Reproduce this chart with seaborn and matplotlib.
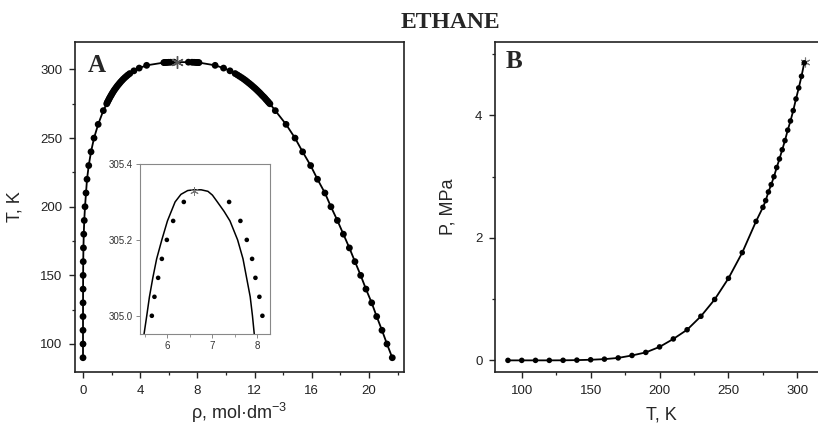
import matplotlib
matplotlib.use('Agg')
import matplotlib.pyplot as plt
import seaborn as sns
from matplotlib.ticker import MultipleLocator, FixedLocator

# ---------------- data ----------------
T_sat = [90, 100, 110, 120, 130, 140, 150, 160, 170, 180, 190, 200, 210, 220, 230,
         240, 250, 260, 270,
         275, 276, 277, 278, 279, 280, 281, 282, 283, 284, 285, 286, 287, 288, 289,
         290, 291, 292, 293, 294, 295, 296, 297, 299, 301, 303,
         305.00, 305.05, 305.10, 305.15, 305.20, 305.25, 305.30]
rho_liq = [21.63, 21.26, 20.91, 20.54, 20.19, 19.79, 19.42, 19.02, 18.63, 18.21, 17.79,
           17.34, 16.92, 16.40, 15.92, 15.36, 14.83, 14.20, 13.45,
           13.07, 12.98, 12.90, 12.81, 12.73, 12.64, 12.54, 12.45, 12.36, 12.26, 12.16,
           12.06, 11.95, 11.84, 11.73, 11.61, 11.49, 11.37, 11.24, 11.10, 10.95, 10.80,
           10.64, 10.28, 9.83, 9.24,
           8.111, 8.044, 7.956, 7.882, 7.764, 7.622, 7.371]
rho_vap = [0.0, 0.0, 0.0, 0.001, 0.003, 0.005, 0.008, 0.016, 0.030, 0.053, 0.087,
           0.14, 0.21, 0.28, 0.40, 0.56, 0.77, 1.06, 1.42,
           1.66, 1.70, 1.75, 1.80, 1.85, 1.90, 1.96, 2.01, 2.07, 2.13, 2.19,
           2.26, 2.33, 2.40, 2.48, 2.56, 2.64, 2.73, 2.82, 2.92, 3.03, 3.14,
           3.27, 3.56, 3.93, 4.45,
           5.653, 5.711, 5.793, 5.876, 5.987, 6.127, 6.364]

# model curve shown in the inset
curve_rho = [5.48, 5.54, 5.60, 5.675, 5.76, 5.875, 6.00, 6.17, 6.30, 6.45, 6.58, 6.75,
             6.90, 7.00, 7.11, 7.26, 7.39, 7.56, 7.68, 7.76, 7.84, 7.89, 7.93]
curve_T = [304.952, 305.00, 305.05, 305.10, 305.15, 305.20, 305.25, 305.30, 305.32,
           305.33, 305.332, 305.332, 305.328, 305.318, 305.30, 305.275, 305.25,
           305.20, 305.15, 305.10, 305.05, 305.00, 304.952]

T_c = 305.33
rho_c = 6.58
P_c = 4.87

T_p = [90, 100, 110, 120, 130, 140, 150, 160, 170, 180, 190, 200, 210, 220, 230, 240,
       250, 260, 270, 275, 277, 279, 281, 283, 285, 287, 289, 291, 293, 295, 297, 299,
       301, 303, 305]
P_p = [0.0, 0.0, 0.0, 0.0, 0.001, 0.004, 0.01, 0.02, 0.04, 0.08, 0.13, 0.22, 0.35,
       0.50, 0.72, 0.995, 1.34, 1.76, 2.27, 2.50, 2.61, 2.75, 2.87, 3.00, 3.15, 3.29,
       3.44, 3.59, 3.76, 3.91, 4.08, 4.27, 4.45, 4.64, 4.86]

# ---------------- style ----------------
sns.set_style('ticks')
plt.rcParams['font.family'] = ['Liberation Sans', 'DejaVu Sans']
plt.rcParams['mathtext.default'] = 'regular'
plt.rcParams['axes.edgecolor'] = '#222222'
plt.rcParams['axes.linewidth'] = 1.2
plt.rcParams['xtick.color'] = '#222222'
plt.rcParams['ytick.color'] = '#222222'

fig = plt.figure(figsize=(8.18, 4.24), dpi=100)
W, H = 818, 424
axA = fig.add_axes([75 / W, 1 - 372 / H, 329 / W, 330 / H])
axB = fig.add_axes([495 / W, 1 - 372 / H, 332 / W, 330 / H])
axI = fig.add_axes([140 / W, 1 - 334 / H, 130 / W, 170 / H])

# ---------------- panel A ----------------
path_rho = rho_vap + [rho_c] + rho_liq[::-1]
path_T = T_sat + [T_c] + T_sat[::-1]
sns.lineplot(x=path_rho, y=path_T, sort=False, estimator=None, color='black',
             lw=1.3, ax=axA)
sns.scatterplot(x=rho_vap + rho_liq, y=T_sat + T_sat, s=24, color='black',
                edgecolor='none', ax=axA, zorder=3)
axA.plot([rho_c], [T_c], marker=(6, 2, 0), ms=9, mew=1.0, color='#555555',
         ls='none', zorder=4)
axA.set_xlim(-0.56, 22.45)
axA.set_ylim(79.6, 320)
axA.xaxis.set_major_locator(MultipleLocator(4))
axA.xaxis.set_minor_locator(MultipleLocator(2))
axA.yaxis.set_major_locator(MultipleLocator(50))
axA.yaxis.set_minor_locator(MultipleLocator(25))
axA.set_xlabel('ρ, mol·dm$^{-3}$', fontsize=13)
axA.set_ylabel('T, K', fontsize=13)
axA.xaxis.set_label_coords(0.5, -0.088)
axA.yaxis.set_label_coords(-0.157, 0.5)
axA.text(0.04, 0.909, 'A', transform=axA.transAxes, fontsize=18,
         fontweight='bold', family='Liberation Serif', va='baseline', ha='left')

# ---------------- inset ----------------
sns.lineplot(x=curve_rho, y=curve_T, sort=False, estimator=None, color='black',
             lw=1.1, ax=axI)
nc_T = [t for t in T_sat if t >= 305.0]
nc_v = [r for r, t in zip(rho_vap, T_sat) if t >= 305.0]
nc_l = [r for r, t in zip(rho_liq, T_sat) if t >= 305.0]
sns.scatterplot(x=nc_v + nc_l, y=nc_T + nc_T, s=11, color='black',
                edgecolor='none', ax=axI, zorder=3)
axI.plot([rho_c], [T_c], marker=(6, 2, 0), ms=6, mew=0.7, color='#777777',
         ls='none', zorder=4)
axI.set_xlim(5.39, 8.28)
axI.set_ylim(304.952, 305.4)
axI.xaxis.set_major_locator(FixedLocator([6, 7, 8]))
axI.xaxis.set_minor_locator(FixedLocator([5.5, 6.5, 7.5]))
axI.yaxis.set_major_locator(FixedLocator([305.0, 305.2, 305.4]))
axI.yaxis.set_major_formatter(matplotlib.ticker.FormatStrFormatter('%.1f'))
for s in axI.spines.values():
    s.set_color('#888888')
    s.set_linewidth(0.8)
axI.tick_params(which='major', labelsize=7, length=3, width=0.7, pad=2,
                color='#888888', labelcolor='#333333')
axI.tick_params(which='minor', length=2, width=0.6, color='#888888')
axI.set_xlabel('')
axI.set_ylabel('')

# ---------------- panel B ----------------
sns.lineplot(x=T_p, y=P_p, sort=False, estimator=None, color='black', lw=1.3, ax=axB)
sns.scatterplot(x=T_p, y=P_p, s=16, color='black', edgecolor='none', ax=axB, zorder=3)
axB.plot([T_c], [P_c], marker=(6, 2, 0), ms=7, mew=0.8, color='#777777',
         ls='none', zorder=2)
axB.set_xlim(80.6, 321.5)
axB.set_ylim(-0.19, 5.2)
axB.xaxis.set_major_locator(MultipleLocator(50))
axB.xaxis.set_minor_locator(MultipleLocator(25))
axB.yaxis.set_major_locator(MultipleLocator(2))
axB.yaxis.set_minor_locator(MultipleLocator(1))
axB.set_xlabel('T, K', fontsize=13)
axB.set_ylabel('P, MPa', fontsize=13)
axB.xaxis.set_label_coords(0.5, -0.105)
axB.yaxis.set_label_coords(-0.115, 0.5)
axB.spines['right'].set_visible(False)
axB.text(0.031, 0.921, 'B', transform=axB.transAxes, fontsize=18,
         fontweight='bold', family='Liberation Serif', va='baseline', ha='left')

for ax in (axA, axB):
    ax.tick_params(which='major', direction='out', length=4, width=1.0,
                   labelsize=9.5, pad=5)
    ax.tick_params(which='minor', direction='out', length=2.5, width=0.9)

fig.text(450 / W, 1 - 22 / H, 'ETHANE', ha='center', va='center',
         family='Liberation Serif', fontweight='bold', fontsize=17)

fig.savefig('out.png', dpi=100)
